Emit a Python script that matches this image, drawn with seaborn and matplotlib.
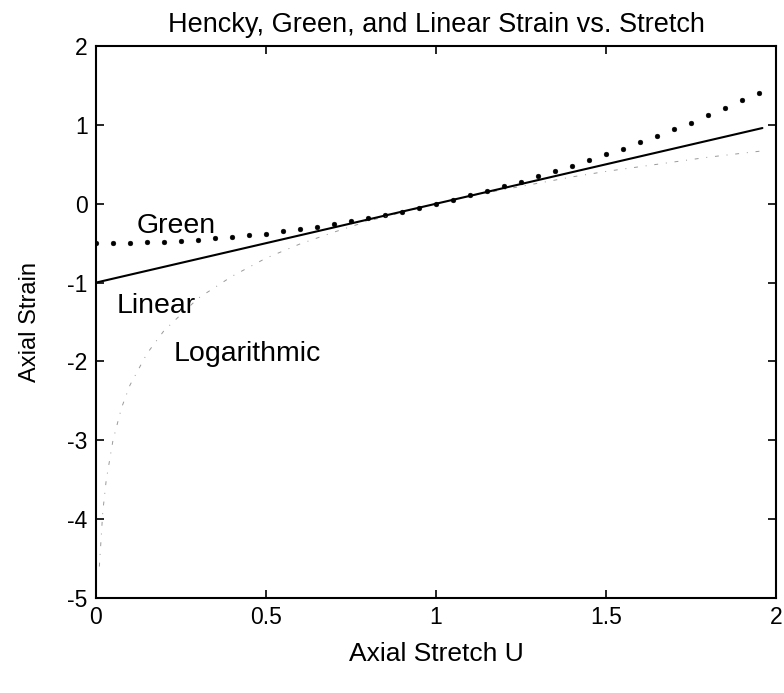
import numpy as np
import pandas as pd
import matplotlib
matplotlib.use("Agg")
import matplotlib.pyplot as plt
import seaborn as sns

# Green strain (dotted)
green_u = [0.00, 0.05, 0.10, 0.15, 0.20, 0.25, 0.30, 0.35, 0.40, 0.45,
           0.50, 0.55, 0.60, 0.65, 0.70, 0.75, 0.80, 0.85, 0.90, 0.95,
           1.00, 1.05, 1.10, 1.15, 1.20, 1.25, 1.30, 1.35, 1.40, 1.45,
           1.50, 1.55, 1.60, 1.65, 1.70, 1.75, 1.80, 1.85, 1.90, 1.95]
green_e = [-0.50, -0.50, -0.50, -0.49, -0.48, -0.47, -0.46, -0.44, -0.42, -0.40,
           -0.38, -0.35, -0.32, -0.29, -0.26, -0.22, -0.18, -0.14, -0.10, -0.05,
           0.00, 0.05, 0.11, 0.16, 0.22, 0.28, 0.35, 0.41, 0.48, 0.55,
           0.63, 0.70, 0.78, 0.86, 0.95, 1.03, 1.12, 1.21, 1.31, 1.40]

# Linear strain (solid)
linear_u = [0.00, 0.50, 1.00, 1.50, 1.96]
linear_e = [-1.00, -0.50, 0.00, 0.50, 0.96]

# Logarithmic (Hencky) strain (faint dash-dot)
log_u = [0.01, 0.02, 0.03, 0.05, 0.075, 0.10, 0.15, 0.20, 0.30, 0.40, 0.50,
         0.60, 0.70, 0.80, 0.90, 1.00, 1.10, 1.20, 1.30, 1.40, 1.50, 1.60,
         1.70, 1.80, 1.90, 1.96]
log_e = [-4.60, -3.91, -3.51, -3.00, -2.59, -2.30, -1.90, -1.61, -1.20, -0.92, -0.69,
         -0.51, -0.36, -0.22, -0.11, 0.00, 0.10, 0.18, 0.26, 0.34, 0.41, 0.47,
         0.53, 0.59, 0.64, 0.67]

x_ticks = [0, 0.5, 1, 1.5, 2]
x_labels = ["0", "0.5", "1", "1.5", "2"]
y_ticks = [-5, -4, -3, -2, -1, 0, 1, 2]
y_labels = ["-5", "-4", "-3", "-2", "-1", "0", "1", "2"]

sns.set_style("ticks")
plt.rcParams["font.family"] = ["Liberation Sans", "DejaVu Sans"]
plt.rcParams["text.color"] = "black"
plt.rcParams["axes.labelcolor"] = "black"
plt.rcParams["xtick.color"] = "black"
plt.rcParams["ytick.color"] = "black"

fig = plt.figure(figsize=(7.84, 6.93), dpi=100)
ax = fig.add_axes([0.1224, 0.137, 0.8674, 0.7966])

sns.lineplot(x=log_u, y=log_e, ax=ax, color="0.6", lw=0.7,
             linestyle=(0, (4, 8, 1, 8)), sort=False)
sns.lineplot(x=linear_u, y=linear_e, ax=ax, color="black", lw=1.5, sort=False)
sns.scatterplot(x=green_u, y=green_e, ax=ax, color="black", s=12,
                edgecolor="black", linewidth=0.3)

ax.set_xlim(0, 2)
ax.set_ylim(-5, 2)
ax.set_xticks(x_ticks)
ax.set_xticklabels(x_labels)
ax.set_yticks(y_ticks)
ax.set_yticklabels(y_labels)
ax.tick_params(direction="in", top=True, right=True, length=6, width=1.2,
               labelsize=16.5, pad=6, colors="black", labelcolor="black")
for s in ax.spines.values():
    s.set_linewidth(1.5)
    s.set_color("black")

ax.set_title("Hencky, Green, and Linear Strain vs. Stretch", fontsize=19.5,
             pad=10, color="black")
ax.set_xlabel("Axial Stretch U", fontsize=19, labelpad=9, color="black")
ax.set_ylabel("Axial Strain", fontsize=17, labelpad=19, color="black")

ax.text(0.121, -0.37, "Green", fontsize=20.5, va="baseline", ha="left", color="black")
ax.text(0.062, -1.38, "Linear", fontsize=20.5, va="baseline", ha="left", color="black")
ax.text(0.227, -2.00, "Logarithmic", fontsize=20.5, va="baseline", ha="left", color="black")

fig.savefig("out.png", dpi=100)
